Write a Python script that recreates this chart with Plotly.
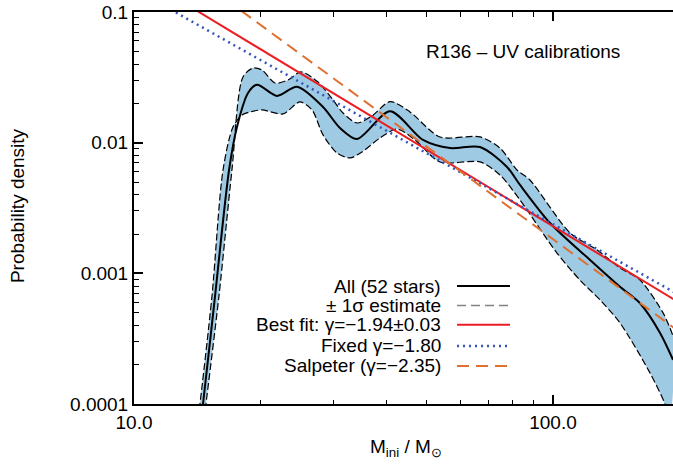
import plotly.graph_objects as go

# Kernel density estimate (all 52 stars)
mass_all = [14.45, 14.61, 15.61, 16.86, 17.61, 18.71, 19.66, 21.94, 24.49, 28.26, 31.02, 34.06,
            40.83, 48.94, 56.77, 66.95, 77.67, 83.41, 98.35, 122.6, 144.5, 161.3, 180.1, 193.4]
dens_all = [7.6e-5, 1.0e-4, 6.7e-4, 0.00618, 0.01318, 0.0240, 0.0278, 0.0228, 0.0268, 0.01876,
            0.01295, 0.01067, 0.0174, 0.0105, 0.0091, 0.00927, 0.00652, 0.00475, 0.00243,
            0.001266, 0.00079, 0.00059, 0.00035, 0.000218]

# +1 sigma envelope
mass_hi = [14.69, 14.85, 15.95, 17.13, 18.20, 19.23, 20.21, 21.70, 23.31, 25.03, 27.49, 29.86,
           31.55, 34.06, 36.98, 40.83, 45.57, 53.74, 66.95, 74.72, 82.05, 88.1, 109.8, 127.4,
           144.5, 161.3, 183.1, 193.4]
dens_hi = [7.6e-5, 1.0e-4, 6.7e-4, 0.00618, 0.0318, 0.0372, 0.0360, 0.0286, 0.0302, 0.0348,
           0.0291, 0.0212, 0.01687, 0.01415, 0.0160, 0.0206, 0.01718, 0.01106, 0.01106, 0.0091,
           0.00618, 0.00518, 0.00204, 0.00151, 0.0011, 0.00089, 0.000498, 0.000332]

# -1 sigma envelope
mass_lo = [14.21, 14.37, 15.35, 16.31, 17.23, 18.11, 18.92, 20.21, 22.68, 24.90, 26.6, 28.26,
           30.51, 32.78, 34.99, 38.65, 42.44, 46.84, 53.74, 66.95, 74.72, 83.41, 102.2, 115.9,
           129.5, 144.5, 170.4, 185.1, 190.1]
dens_lo = [7.6e-5, 1.0e-4, 6.7e-4, 0.00618, 0.01318, 0.0163, 0.01718, 0.0178, 0.0166, 0.0205,
           0.0178, 0.01146, 0.00834, 0.00764, 0.00849, 0.01086, 0.0127, 0.0105, 0.00712, 0.00712,
           0.00566, 0.00364, 0.00143, 0.00089, 0.000626, 0.000417, 0.000173, 1.0e-4, 7.6e-5]

# Power-law lines (straight in log-log, end points at 10 and 200 Msun)
mass_ends = [10, 200]
dens_best = [0.2, 0.000598]      # gamma = -1.94
dens_fixed = [0.150, 0.000682]   # gamma = -1.80
dens_salp = [0.408, 0.000358]    # gamma = -2.35

legend_labels = ["All (52 stars)", "± 1σ estimate", "Best fit: γ=−1.94±0.03",
                 "Fixed γ=−1.80", "Salpeter (γ=−2.35)"]

FONT = "Liberation Sans, Arial, sans-serif"
BAND = "rgb(158,202,228)"
RED = "rgb(236,30,36)"
BLUE = "rgb(52,84,188)"
ORANGE = "rgb(222,112,48)"

fig = go.Figure()

# shaded 1-sigma band
fig.add_trace(go.Scatter(
    x=mass_hi + mass_lo[::-1], y=dens_hi + dens_lo[::-1],
    mode="lines", fill="toself", fillcolor=BAND,
    line=dict(width=0, shape="spline", smoothing=0.8), hoverinfo="skip"))
fig.add_trace(go.Scatter(x=mass_hi, y=dens_hi, mode="lines",
                         line=dict(color="black", width=1.2, dash="7px,3px", shape="spline", smoothing=0.8)))
fig.add_trace(go.Scatter(x=mass_lo, y=dens_lo, mode="lines",
                         line=dict(color="black", width=1.2, dash="7px,3px", shape="spline", smoothing=0.8)))
fig.add_trace(go.Scatter(x=mass_all, y=dens_all, mode="lines",
                         line=dict(color="black", width=2, shape="spline", smoothing=0.8)))

fig.add_trace(go.Scatter(x=mass_ends, y=dens_best, mode="lines", line=dict(color=RED, width=2)))
fig.add_trace(go.Scatter(x=mass_ends, y=dens_fixed, mode="lines", line=dict(color=BLUE, width=2.5, dash="2px,4px")))
fig.add_trace(go.Scatter(x=mass_ends, y=dens_salp, mode="lines", line=dict(color=ORANGE, width=2, dash="12px,7px")))

# hand-made legend: text right-aligned, sample line to the right
legend_styles = [
    dict(color="black", width=2),
    dict(color="rgb(130,130,130)", width=1.5, dash="9px,5px"),
    dict(color=RED, width=2),
    dict(color=BLUE, width=2.5, dash="2px,4px"),
    dict(color=ORANGE, width=2, dash="12px,7px"),
]
row_y = [0.301, 0.251, 0.202, 0.148, 0.097]
for label, style, yy in zip(legend_labels, legend_styles, row_y):
    fig.add_annotation(x=0.5733, y=yy, xref="paper", yref="paper", text=label,
                       showarrow=False, xanchor="right", yanchor="middle",
                       font=dict(family=FONT, size=19, color="black"))
    fig.add_shape(type="line", xref="paper", yref="paper", x0=0.5993, x1=0.6976,
                  y0=yy, y1=yy, line=style)

fig.add_annotation(x=0.7217, y=0.898, xref="paper", yref="paper", text="R136 – UV calibrations",
                   showarrow=False, xanchor="center", yanchor="middle",
                   font=dict(family=FONT, size=19, color="black"))

# axis titles
fig.add_annotation(x=-0.217, y=0.505, xref="paper", yref="paper", text="Probability density",
                   textangle=-90, showarrow=False, xanchor="center", yanchor="middle",
                   font=dict(family=FONT, size=19, color="black"))
fig.add_annotation(x=0.5046, y=-0.112, xref="paper", yref="paper",
                   text="M<sub>ini</sub> / M<sub>⊙</sub>",
                   showarrow=False, xanchor="center", yanchor="middle",
                   font=dict(family=FONT, size=19, color="black"))

x_minor = [20, 30, 40, 50, 60, 70, 80, 90]
y_minor = [m * d for d in (1e-4, 1e-3, 1e-2) for m in range(2, 10)]

fig.update_layout(
    width=673, height=468,
    margin=dict(l=134, r=0, t=12, b=64),
    paper_bgcolor="white", plot_bgcolor="white",
    showlegend=False,
    font=dict(family=FONT, size=19, color="black"),
    xaxis=dict(type="log", range=[1, 2.2864], tickmode="array", tickvals=[10, 100],
               ticktext=["10.0", "100.0"], ticks="inside", ticklen=9, tickwidth=1.5,
               tickcolor="black", showline=True, linecolor="black", linewidth=2,
               mirror="ticks", showgrid=False, zeroline=False, automargin=False,
               tickfont=dict(family=FONT, size=19),
               minor=dict(tickmode="array", tickvals=x_minor, ticks="inside", ticklen=4.5,
                          tickwidth=1.3, tickcolor="black", showgrid=False)),
    yaxis=dict(type="log", range=[-4, -1], tickmode="array", tickvals=[1e-4, 1e-3, 1e-2, 1e-1],
               ticktext=["0.0001", "0.001", "0.01", "0.1"], ticks="inside", ticklen=9,
               tickwidth=1.5, tickcolor="black", showline=True, linecolor="black", linewidth=2,
               showgrid=False, zeroline=False, automargin=False,
               tickfont=dict(family=FONT, size=19),
               minor=dict(tickmode="array", tickvals=y_minor, ticks="inside", ticklen=4.5,
                          tickwidth=1.3, tickcolor="black", showgrid=False)),
)

# page body has a default 8px margin; drop it so the figure sits at the window corner
fig.write_html("out.html", config={"displayModeBar": False},
               post_script="document.body.style.margin='0';")
